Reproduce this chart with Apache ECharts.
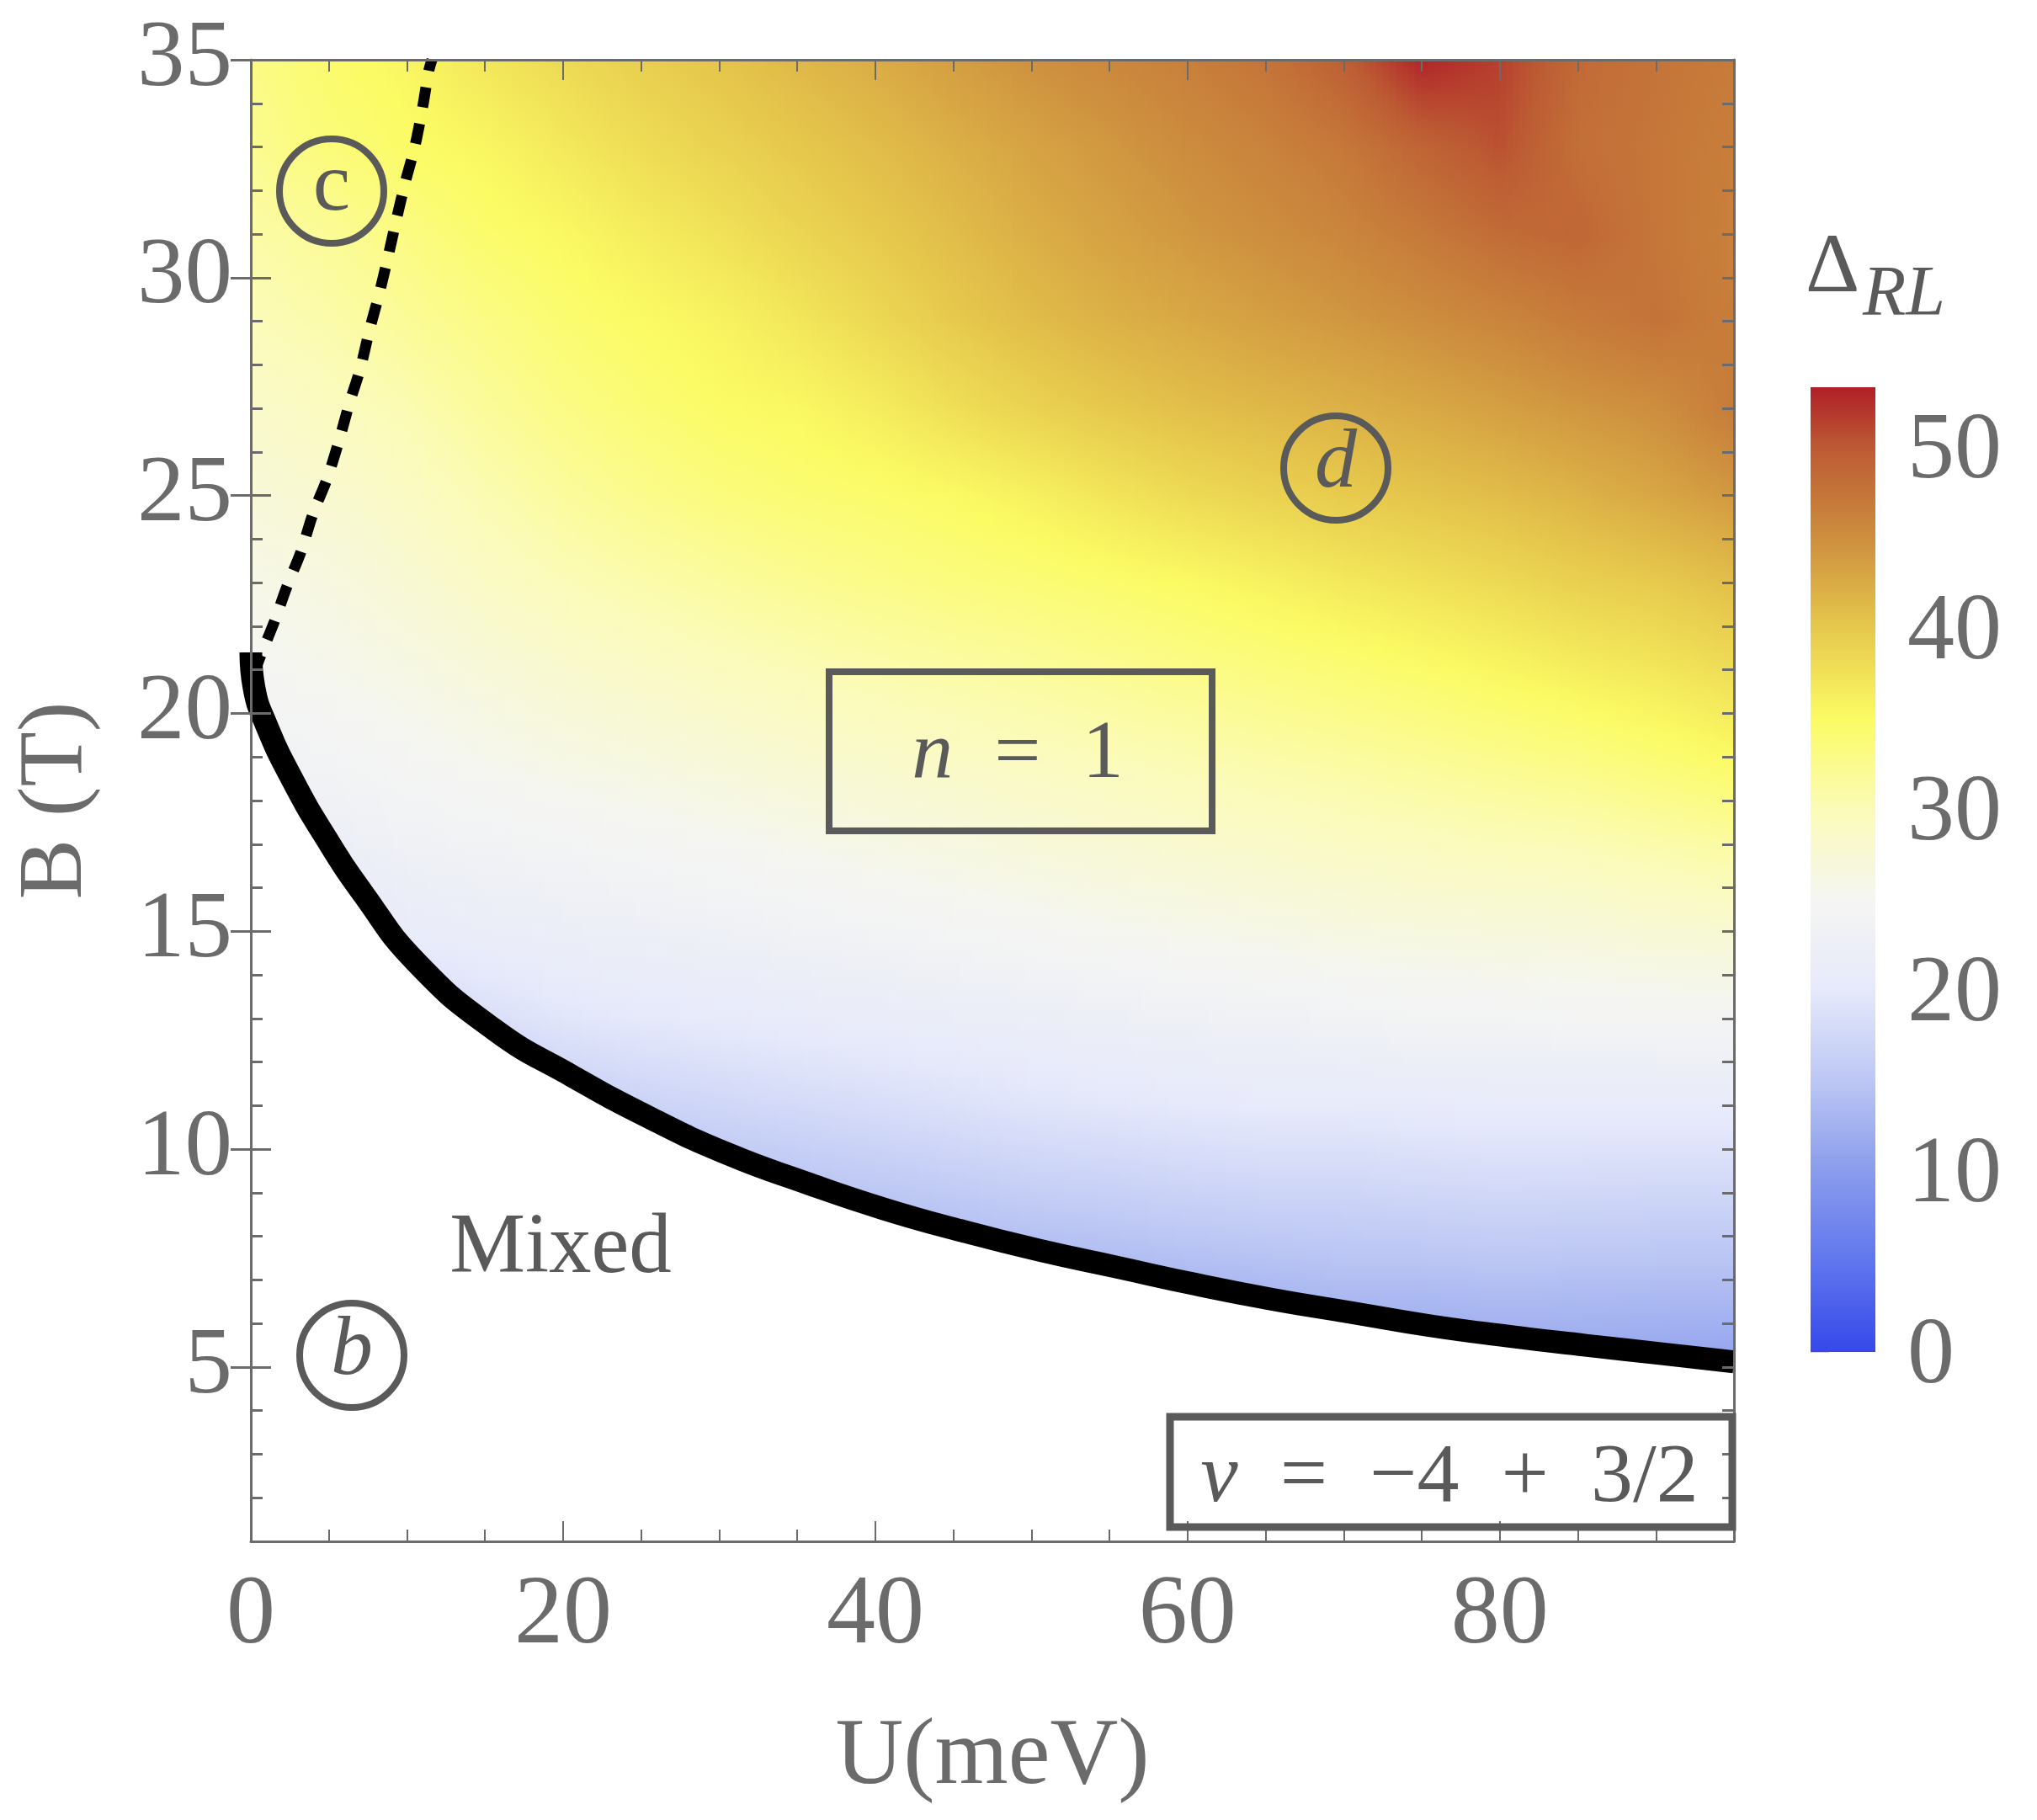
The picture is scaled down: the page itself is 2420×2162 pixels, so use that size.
<!DOCTYPE html>
<html>
<head>
<meta charset="utf-8">
<title>Delta RL phase diagram</title>
<script src="https://cdn.jsdelivr.net/npm/echarts@6/dist/echarts.min.js"></script>
<style>
  html, body { margin: 0; padding: 0; background: #fff; }
  #chart { width: 2420px; height: 2162px; }
</style>
</head>
<body>
<div id="chart"></div>
<script>
// grid nodes of the colour field
const uNodes = [0, 5, 10, 15, 20, 25, 30, 35, 40, 45, 50, 55, 60, 65, 70, 75, 80, 85, 90, 95];
const bNodes = [35, 33, 31, 29, 27, 25, 23, 21, 19, 17, 15, 13, 11, 9, 7, 5];

// one row per bNodes entry; null = inside the white "Mixed" region
const deltaRows = [
  [33, 34.5, 35.5, 37, 38.3, 39.3, 40.3, 41.3, 42.4, 43.6, 44.7, 45.6, 46.4, 47.5, 49.5, 53, 51.5, 48.5, 47.5, 46.8],
  [32.3, 33.7, 34.8, 35.5, 36.8, 38, 39, 40, 41, 42.1, 43.2, 44.2, 45.2, 46.1, 47.2, 49, 50.5, 48, 47.3, 46.5],
  [31, 32, 33.2, 34.5, 35.3, 36.4, 37.5, 38.7, 39.8, 41, 42.2, 43.3, 44.2, 45, 45.8, 47, 48.3, 48.8, 47.3, 46.3],
  [29.8, 30.8, 31.9, 33, 34.2, 35, 35.8, 37, 38.4, 39.8, 41, 42, 42.7, 43.5, 44.2, 45, 45.8, 46.8, 47.6, 46.5],
  [28.4, 29.3, 30.3, 31.7, 33, 34, 34.9, 35.3, 36.4, 37.8, 39, 40, 40.8, 41.4, 42, 42.7, 43.5, 44.3, 45, 46.8],
  [27.2, 27.9, 29, 30.3, 31.6, 32.6, 33.5, 34.1, 34.5, 35.1, 36, 37.2, 38.2, 39, 39.7, 40.3, 41, 41.8, 42.9, 44],
  [25.9, 26.5, 27.6, 28.8, 29.9, 30.7, 31.5, 32.2, 32.8, 33.4, 33.9, 34.5, 35.1, 35.9, 36.8, 37.5, 38.3, 39.2, 39.8, 40.8],
  [24.8, 25.5, 26.2, 27.1, 28, 28.7, 29.4, 30, 30.6, 31.1, 31.6, 32.2, 32.8, 33.4, 34, 34.7, 35.5, 36.3, 37, 38],
  [23.2, 24, 24.8, 25.5, 26.2, 26.7, 27.3, 27.9, 28.4, 28.9, 29.4, 29.9, 30.4, 30.9, 31.4, 32, 32.6, 33.2, 34.1, 35.1],
  [21, 22.2, 23, 23.5, 24, 24.5, 25, 25.6, 26.1, 26.6, 27.1, 27.6, 28.1, 28.5, 29, 29.4, 29.8, 30.1, 30.7, 31.4],
  [18, 19.5, 21, 21.6, 22, 22.4, 22.8, 23.3, 23.7, 24.2, 24.7, 25.2, 25.6, 26, 26.4, 26.7, 26.9, 27, 27.5, 27.8],
  [null, 15.5, 17.2, 18.4, 19.5, 20, 20.4, 20.8, 21.1, 21.5, 21.9, 22.4, 22.8, 23.1, 23.4, 23.9, 24, 24.2, 24.3, 24.4],
  [null, null, 13.5, 15, 16, 16.7, 17.3, 17.8, 18.3, 18.8, 19.3, 19.7, 20, 20.3, 20.3, 20.5, 20.7, 20.7, 20.7, 20.7],
  [null, null, null, null, 13, 13.8, 14, 14.5, 15, 15.5, 16, 16.3, 16.7, 17, 17, 17.3, 17.5, 17.4, 17.3, 17.3],
  [null, null, null, null, null, null, null, 11.2, 11.7, 12.2, 12.7, 13, 13.3, 13.6, 14, 14, 14.2, 14.1, 14, 14],
  [null, null, null, null, null, null, null, null, null, null, null, null, 10, 10.2, 10.6, 10.8, 11, 11, 10.8, 10.6]
];

// thick phase boundary
const boundaryU = [0, 0.2, 1, 2.66, 4.75, 7.24, 10.57, 15.57, 20.57, 25.56, 30.56, 35.55, 40.55, 45.5, 50.5, 55.5, 60.5, 65.5, 70.5, 75.5, 80.5, 85.5, 90.5, 95];
const boundaryB = [21.4, 20.6, 19.73, 18.48, 17.18, 15.84, 14.3, 12.75, 11.68, 10.72, 9.89, 9.23, 8.63, 8.13, 7.68, 7.29, 6.9, 6.55, 6.25, 5.95, 5.71, 5.5, 5.3, 5.12];

// dashed boundary
const dashedU = [0.2, 0.6, 1.5, 2.3, 3.2, 4, 4.9, 5.6, 6.3, 7, 7.6, 8.2, 8.8, 9.3, 9.9, 10.5, 11, 11.4, 11.6];
const dashedB = [20.9, 21.3, 22.1, 22.9, 23.7, 24.6, 25.4, 26.2, 27.1, 27.9, 28.8, 29.6, 30.5, 31.3, 32.2, 33, 33.9, 34.75, 35];

// colour scale
const scaleValues = [0, 5, 10, 15, 20, 25, 30, 35, 40, 45, 50, 53.3];
const scaleColors = ['#3648ea', '#6076ee', '#8a9cec', '#bcc7f4', '#e6e9fb', '#f5f6f2', '#fbfbb8', '#fbfb64', '#e6c84c', '#cd8e3e', '#bc5a33', '#b01f27'];

// tick values
const uMajor = [0, 20, 40, 60, 80];
const bMajor = [5, 10, 15, 20, 25, 30, 35];

const INK = '#6b6b6b';
const NOTE = '#5a5a5a';
const SERIF = '"Liberation Serif", serif';

function hexToRgb(hex) {
  return [1, 3, 5].map((i) => parseInt(hex.slice(i, i + 2), 16));
}
const scaleRgb = scaleColors.map(hexToRgb);

function colorAt(v) {
  let i = 0;
  while (i < scaleValues.length - 2 && v > scaleValues[i + 1]) i++;
  const t = Math.max(0, Math.min(1, (v - scaleValues[i]) / (scaleValues[i + 1] - scaleValues[i])));
  const c = scaleRgb[i].map((a, k) => Math.round(a + (scaleRgb[i + 1][k] - a) * t));
  return `rgb(${c[0]},${c[1]},${c[2]})`;
}

// one datum per cell of the read grid: its corners and their values
const cells = [];
for (let j = 0; j < bNodes.length - 1; j++) {
  for (let i = 0; i < uNodes.length - 1; i++) {
    const a = deltaRows[j][i], b = deltaRows[j][i + 1], c = deltaRows[j + 1][i], d = deltaRows[j + 1][i + 1];
    if (a === null || b === null || c === null || d === null) continue;
    cells.push([uNodes[i], bNodes[j], uNodes[i + 1], bNodes[j + 1], a, b, c, d]);
  }
}

// the reference is a smooth density plot, so each cell is shaded from its corners when painted
const STRIPS = 12;
function renderCell(params, api) {
  const tl = api.coord([api.value(0), api.value(1)]);
  const br = api.coord([api.value(2), api.value(3)]);
  const a = api.value(4), b = api.value(5), c = api.value(6), d = api.value(7);
  const w = (br[0] - tl[0]) / STRIPS;
  const children = [];
  for (let s = 0; s < STRIPS; s++) {
    const tx = (s + 0.5) / STRIPS;
    const top = a + (b - a) * tx;
    const bottom = c + (d - c) * tx;
    const stops = [0, 0.25, 0.5, 0.75, 1].map((f) => ({ offset: f, color: colorAt(top + (bottom - top) * f) }));
    children.push({
      type: 'rect',
      shape: { x: tl[0] + s * w, y: tl[1], width: w + 1, height: br[1] - tl[1] + 1 },
      style: { fill: new echarts.graphic.LinearGradient(0, 0, 0, 1, stops) },
      silent: true
    });
  }
  return { type: 'group', children };
}

function renderColorbar(params, api) {
  const top = api.coord([0, scaleValues[scaleValues.length - 1]]);
  const bottom = api.coord([1, 0]);
  const maxV = scaleValues[scaleValues.length - 1];
  const stops = scaleValues.map((v, i) => ({ offset: 1 - v / maxV, color: scaleColors[i] })).reverse();
  return {
    type: 'rect',
    shape: { x: top[0], y: top[1], width: bottom[0] - top[0], height: bottom[1] - top[1] },
    style: { fill: new echarts.graphic.LinearGradient(0, 0, 0, 1, stops) }
  };
}

const frameLine = { show: true, onZero: false, lineStyle: { color: INK, width: 3 } };
const noLine = { show: false };

function uAxis(position, showLabels) {
  return {
    type: 'value', gridIndex: 0, position, min: 0, max: 95, interval: 20, z: 10,
    splitLine: { show: false },
    axisLine: frameLine,
    axisTick: { show: true, inside: true, length: 24, lineStyle: { color: INK, width: 2 } },
    minorTick: { show: true, splitNumber: 4, length: 14, lineStyle: { color: INK, width: 2 } },
    axisLabel: { show: showLabels, color: INK, fontFamily: SERIF, fontSize: 116, margin: 32, customValues: uMajor },
    name: showLabels ? 'U(meV)' : '',
    nameLocation: 'middle',
    nameGap: 202,
    nameTextStyle: { color: INK, fontFamily: SERIF, fontSize: 112 }
  };
}

// every 1 T tick
function bMinorAxis(position, showLabels) {
  return {
    type: 'value', gridIndex: 0, position, min: 1, max: 35, interval: 1, z: 10,
    splitLine: { show: false },
    axisLine: frameLine,
    axisTick: { show: true, inside: true, length: 14, lineStyle: { color: INK, width: 3 } },
    axisLabel: { show: showLabels, color: INK, fontFamily: SERIF, fontSize: 113, margin: 22, customValues: bMajor },
    name: showLabels ? 'B (T)' : '',
    nameLocation: 'middle',
    nameGap: 177,
    nameTextStyle: { color: INK, fontFamily: SERIF, fontSize: 107 }
  };
}

// longer ticks at the labelled values
function bMajorAxis(position) {
  return {
    type: 'value', gridIndex: 0, position, min: 1, max: 35, z: 10,
    splitLine: { show: false },
    axisLine: noLine,
    axisTick: { show: true, inside: true, length: 24, customValues: bMajor, lineStyle: { color: INK, width: 3 } },
    axisLabel: { show: false }
  };
}

const option = {
  backgroundColor: '#fff',
  animation: false,
  grid: [
    { left: 298, top: 71, width: 1762, height: 1760 },
    { left: 2151, top: 460, width: 77, height: 1146 }
  ],
  xAxis: [
    uAxis('bottom', true),
    uAxis('top', false),
    { type: 'value', gridIndex: 1, min: 0, max: 1, show: false }
  ],
  yAxis: [
    bMinorAxis('left', true),
    bMajorAxis('left'),
    bMinorAxis('right', false),
    bMajorAxis('right'),
    {
      type: 'value', gridIndex: 1, position: 'right', min: 0, max: 53.3, interval: 10,
      splitLine: { show: false },
      axisLine: { show: false },
      axisTick: { show: true, length: 22, lineStyle: { color: '#d4d4d4', width: 1 } },
      minorTick: { show: true, splitNumber: 5, length: 18, lineStyle: { color: '#d4d4d4', width: 1 } },
      axisLabel: {
        margin: 38,
        formatter: '{v|{value}}',
        rich: { v: { color: INK, fontFamily: SERIF, fontSize: 112, padding: [14, 0, 0, 0] } }
      }
    }
  ],
  series: [
    {
      name: 'Delta RL',
      type: 'custom',
      coordinateSystem: 'cartesian2d',
      xAxisIndex: 0,
      yAxisIndex: 0,
      z: 2,
      silent: true,
      renderItem: renderCell,
      encode: { x: [0, 2], y: [1, 3] },
      data: cells
    },
    {
      name: 'Boundary',
      type: 'line',
      xAxisIndex: 0,
      yAxisIndex: 0,
      z: 3,
      clip: false,
      smooth: 0.5,
      symbol: 'none',
      lineStyle: { color: '#000', width: 27, cap: 'butt', join: 'round' },
      areaStyle: { color: '#fff', opacity: 1, origin: 'start' },
      data: boundaryU.map((u, i) => [u, boundaryB[i]])
    },
    {
      name: 'Dashed boundary',
      type: 'line',
      xAxisIndex: 0,
      yAxisIndex: 0,
      z: 4,
      smooth: 0.3,
      symbol: 'none',
      lineStyle: { color: '#000', width: 13, type: [24, 20] },
      data: dashedU.map((u, i) => [u, dashedB[i]])
    },
    {
      name: 'Colour bar',
      type: 'custom',
      coordinateSystem: 'cartesian2d',
      xAxisIndex: 2,
      yAxisIndex: 4,
      silent: true,
      renderItem: renderColorbar,
      encode: { x: 0, y: 1 },
      data: [[0, 0]]
    }
  ],
  graphic: [
    circleNote(394, 227, 'c', 'normal'),
    circleNote(1587, 556, 'd', 'italic'),
    circleNote(418, 1610, 'b', 'italic'),
    boxNote(985, 798, 455, 189, 8),
    boxNote(1390, 1683, 668, 131, 9),
    noteText(1209, 897, '{i|n}\u2002=\u20021', 98),
    noteText(1722, 1757, '{i|\u03bd}\u2002=\u2002\u22124\u2002+\u20023/2', 100),
    noteText(666, 1484, 'Mixed', 101),
    { type: 'text', z: 100, style: { x: 2145, y: 320, text: '\u0394', fill: NOTE, font: `100px ${SERIF}`, textVerticalAlign: 'middle' } },
    { type: 'text', z: 100, style: { x: 2213, y: 352, text: 'RL', fill: NOTE, font: `italic 84px ${SERIF}`, textVerticalAlign: 'middle' } }
  ]
};

function circleNote(x, y, label, fontStyle) {
  return {
    type: 'group', z: 100,
    children: [
      { type: 'circle', z: 100, shape: { cx: x, cy: y, r: 62 }, style: { fill: 'transparent', stroke: NOTE, lineWidth: 8 } },
      { type: 'text', z: 100, style: { x, y: y - 4, text: label, fill: NOTE, font: `${fontStyle} 100px ${SERIF}`, textAlign: 'center', textVerticalAlign: 'middle' } }
    ]
  };
}

function boxNote(x, y, w, h, lineWidth) {
  return { type: 'rect', z: 99, shape: { x, y, width: w, height: h }, style: { fill: 'transparent', stroke: NOTE, lineWidth } };
}

function noteText(x, y, text, size) {
  return {
    type: 'text', z: 100,
    style: {
      x, y, text, fill: NOTE, font: `${size}px ${SERIF}`, textAlign: 'center', textVerticalAlign: 'middle',
      rich: { i: { font: `italic ${size}px ${SERIF}`, fill: NOTE } }
    }
  };
}

const chart = echarts.init(document.getElementById('chart'), null, { renderer: 'canvas', width: 2420, height: 2162 });
chart.setOption(option);
</script>
</body>
</html>
